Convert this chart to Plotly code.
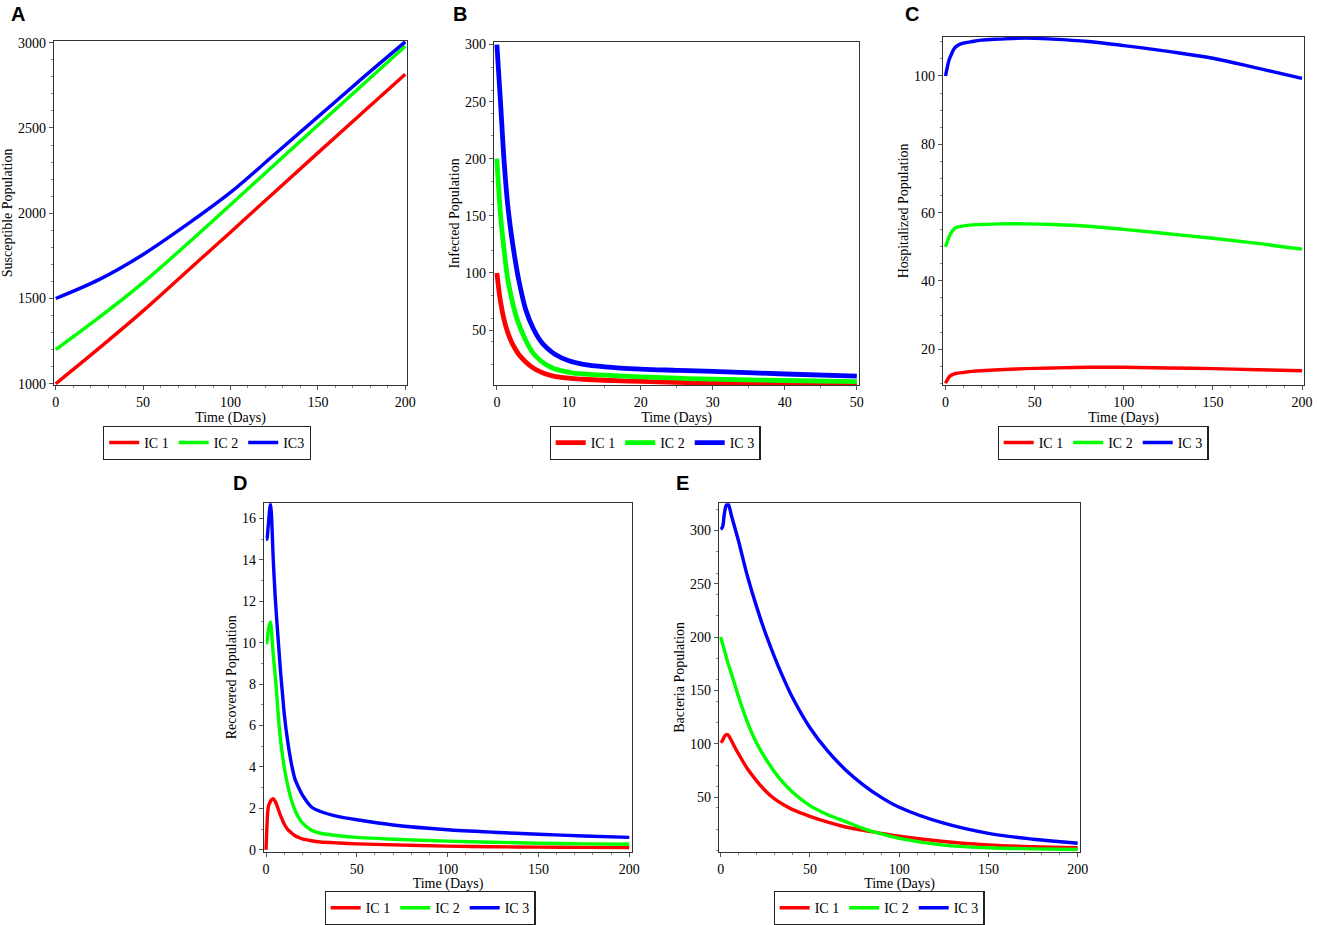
import plotly.graph_objects as go

# ---- values ----
# A: susceptible population, time 0..200 days
t_A = [0, 25, 50, 75, 100, 125, 150, 175, 200]
S_ic1 = [1000, 1210, 1427, 1658, 1889, 2122, 2354, 2585, 2815]
S_ic2 = [1200, 1390, 1593, 1818, 2050, 2283, 2516, 2748, 2979]
S_ic3 = [1500, 1612, 1758, 1933, 2122, 2343, 2565, 2788, 3005]

# B: infected population, time 0..50 days
t_B = [0, 0.5, 1, 1.5, 2, 2.5, 3, 4, 5, 6, 7, 8, 10, 12, 15, 20, 25, 30, 40, 50]
I_ic1 = [100, 75, 59, 48, 40, 34, 29, 22, 17, 13.5, 11, 9.5, 7.8, 6.9, 6, 5, 4.2, 3.6, 2.8, 2.2]
I_ic2 = [200, 151, 120, 95, 79, 66, 56, 41, 30, 23.5, 19, 16, 13, 11.5, 10.5, 9, 7.8, 7, 5.8, 4.8]
I_ic3 = [300, 250, 198, 160, 134, 113, 95, 68, 52, 41, 34, 29, 23, 20, 17.8, 15.8, 14.7, 13.7, 11.5, 9.7]

# C: hospitalized population
t_C = [0, 1, 2, 3, 5, 7, 10, 15, 20, 30, 45, 60, 80, 100, 125, 150, 175, 200]
H_ic1 = [10, 11, 11.8, 12.3, 12.8, 13.0, 13.2, 13.5, 13.7, 14.0, 14.3, 14.5, 14.7, 14.7, 14.5, 14.3, 14.0, 13.7]
H_ic2 = [50, 51.5, 52.9, 54, 55.3, 55.8, 56.1, 56.4, 56.5, 56.7, 56.7, 56.5, 56.0, 55.1, 53.8, 52.5, 51.0, 49.3]
H_ic3 = [100, 102.5, 104.7, 106, 108.1, 109, 109.6, 110.1, 110.5, 110.8, 111.1, 110.8, 110.1, 108.9, 107.2, 105.2, 102.3, 99.3]

# D: recovered population
t_D = [0, 0.5, 1, 1.5, 2, 2.5, 3, 4, 5, 6, 7, 8, 9, 10, 12, 14, 16, 18, 20,
       25, 30, 40, 50, 70, 100, 125, 150, 175, 200]
R_ic1 = [0, 1.1, 1.9, 2.15, 2.25, 2.35, 2.42, 2.47, 2.35, 2.15, 1.9, 1.65, 1.45, 1.25,
         0.98, 0.82, 0.68, 0.6, 0.53, 0.44, 0.38, 0.33, 0.29, 0.24, 0.18, 0.15, 0.13, 0.12, 0.11]
R_ic2 = [10.0, 10.0, 10.4, 10.7, 10.9, 11.0, 10.6, 9.4, 8.5, 7.4, 6.2, 5.3, 4.6, 4.0,
         3.1, 2.4, 1.9, 1.55, 1.3, 0.95, 0.8, 0.68, 0.6, 0.51, 0.42, 0.37, 0.32, 0.29, 0.27]
R_ic3 = [15.0, 15.0, 15.4, 15.9, 16.4, 16.7, 16.2, 14.0, 12.3, 11.0, 9.8, 8.6, 7.6, 6.6,
         5.2, 4.15, 3.4, 3.0, 2.65, 2.07, 1.85, 1.6, 1.45, 1.2, 0.97, 0.85, 0.75, 0.67, 0.6]

# E: bacteria population
t_E = [0, 1, 2, 3, 4, 5, 6, 8, 10, 15, 20, 25, 30, 35, 40, 50, 60, 70, 80, 90, 100,
       125, 150, 175, 200]
B_ic1 = [101, 103, 106.5, 108.5, 108.5, 106, 103, 96.5, 90.5, 76.5, 65.5, 56, 48.5, 43,
         38.5, 32, 26.5, 22, 18.8, 16, 13.3, 8.4, 5.2, 3.5, 2.5]
B_ic2 = [200, 194, 188, 182, 176, 171, 165.5, 155, 144, 120, 101, 86.5, 74, 63.5, 55,
         42, 33.5, 27, 20.5, 15.5, 11.3, 5, 2.5, 1.5, 0.9]
B_ic3 = [301, 303, 315, 323, 325, 321, 314, 302, 290, 257, 229, 204, 182, 162, 144,
         115, 93, 75.5, 61.3, 49.7, 40.5, 25.5, 16, 10.5, 6.8]

COLORS = ["#ff0000", "#00ff00", "#0000ff"]
SERIF = "Liberation Serif"
W, H = 1317, 925

# panel boxes in page pixels: (x0, x1, y0, y1)
panels = [
    dict(letter="A", box=(54, 407, 41, 388), t=t_A, ys=[S_ic1, S_ic2, S_ic3],
         names=["IC 1", "IC 2", "IC3"], xr=[-1, 201], yr=[992, 3012],
         xt=[0, 50, 100, 150, 200], yt=[1000, 1500, 2000, 2500, 3000],
         ytitle="Susceptible Population", lw=3.4, sm=1.0, leg=(207, 429), lab=(18, 14)),
    dict(letter="B", box=(494, 859, 42, 388), t=t_B, ys=[I_ic1, I_ic2, I_ic3],
         names=["IC 1", "IC 2", "IC 3"], xr=[-0.4, 50.3], yr=[1.8, 302.5],
         xt=[0, 10, 20, 30, 40, 50], yt=[50, 100, 150, 200, 250, 300],
         ytitle="Infected Population", lw=4.8, sm=1.0, leg=(655, 429), lab=(460, 14)),
    dict(letter="C", box=(943, 1304, 37, 388), t=t_C, ys=[H_ic1, H_ic2, H_ic3],
         names=["IC 1", "IC 2", "IC 3"], xr=[-1.4, 201.1], yr=[9.5, 111.5],
         xt=[0, 50, 100, 150, 200], yt=[20, 40, 60, 80, 100],
         ytitle="Hospitalized Population", lw=3.4, sm=1.0, leg=(1103, 429), lab=(912, 14)),
    dict(letter="D", box=(264, 632, 507, 858), t=t_D, ys=[R_ic1, R_ic2, R_ic3],
         names=["IC 1", "IC 2", "IC 3"], xr=[-1.1, 201.5], yr=[-0.08, 16.73],
         xt=[0, 50, 100, 150, 200], yt=[0, 2, 4, 6, 8, 10, 12, 14, 16],
         ytitle="Recovered Population", lw=3.4, sm=0.6, leg=(430, 898), lab=(240, 487)),
    dict(letter="E", box=(719, 1080, 507, 858), t=t_E, ys=[B_ic1, B_ic2, B_ic3],
         names=["IC 1", "IC 2", "IC 3"], xr=[-0.95, 201.3], yr=[-1, 325.5],
         xt=[0, 50, 100, 150, 200], yt=[50, 100, 150, 200, 250, 300],
         ytitle="Bacteria Population", lw=3.4, sm=1.0, leg=(879, 898), lab=(682, 487)),
]

fig = go.Figure()
layout = {}
annotations = []

for i, p in enumerate(panels):
    n = "" if i == 0 else str(i + 1)
    legname = "legend" + n
    x0, x1, y0, y1 = p["box"]

    for k in range(3):
        fig.add_trace(go.Scatter(
            x=p["t"], y=p["ys"][k], mode="lines", name=p["names"][k],
            line=dict(color=COLORS[k], width=p["lw"], shape="spline", smoothing=p["sm"]),
            xaxis="x" + n, yaxis="y" + n, legend=legname,
        ))

    axis_common = dict(
        showline=True, mirror=True, linecolor="#333333", linewidth=1.4,
        ticks="outside", ticklen=4, tickcolor="#555555", showgrid=False, zeroline=False,
        automargin=False,
        tickfont=dict(family=SERIF, size=14, color="black"),
        minor=dict(ticks="outside", ticklen=2, tickcolor="#888888"),
    )
    layout["xaxis" + n] = dict(
        axis_common, domain=[x0 / W, x1 / W], range=p["xr"], tickvals=p["xt"],
        anchor="y" + n,
        title=dict(text="Time (Days)", font=dict(family=SERIF, size=14, color="black"),
                   standoff=0),
    )
    layout["yaxis" + n] = dict(
        axis_common, domain=[1 - y1 / H, 1 - y0 / H], range=p["yr"], tickvals=p["yt"],
        anchor="x" + n,
        title=dict(text=p["ytitle"], font=dict(family=SERIF, size=14, color="black"),
                   standoff=2),
    )
    layout[legname] = dict(
        x=p["leg"][0] / W, y=1 - p["leg"][1] / H, xanchor="center", yanchor="top",
        orientation="h", bordercolor="#222222", borderwidth=1.2, bgcolor="white",
        font=dict(family=SERIF, size=14, color="black"), itemwidth=30,
    )
    annotations.append(dict(
        text="<b>" + p["letter"] + "</b>", x=p["lab"][0] / W, y=1 - p["lab"][1] / H,
        xref="paper", yref="paper", showarrow=False, xanchor="center", yanchor="middle",
        font=dict(family="Liberation Sans", size=20, color="black"),
    ))

fig.update_layout(
    width=W, height=H, margin=dict(l=0, r=0, t=0, b=0),
    paper_bgcolor="white", plot_bgcolor="white",
    annotations=annotations, **layout,
)

# the page body has a default 8px margin; remove it so the figure sits at the corner
fig.write_html("out.html", config={"displayModeBar": False},
               post_script="document.body.style.margin='0';document.body.style.overflow='hidden';")
